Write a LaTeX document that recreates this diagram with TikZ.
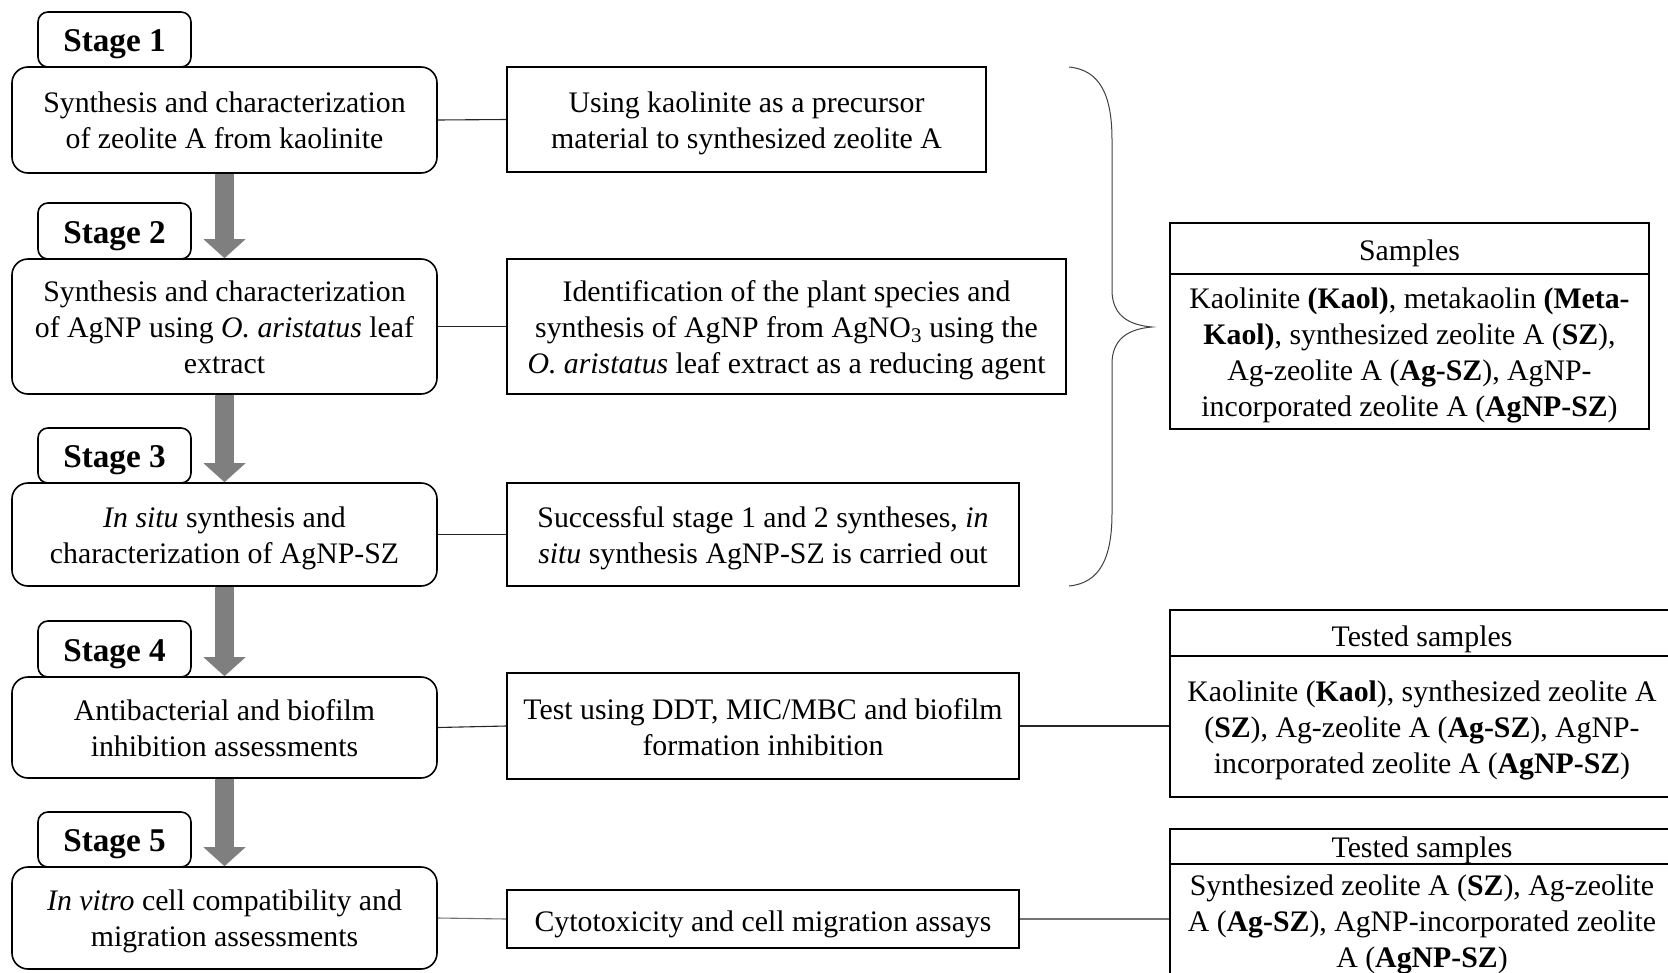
\documentclass[tikz,border=0pt]{standalone}
\usepackage{fontspec}
\setmainfont{Liberation Serif}
\usetikzlibrary{arrows.meta}
\definecolor{arrowgray}{HTML}{7F7F7F}
\begin{document}
\begin{tikzpicture}[x=1pt,y=-1pt,
  txt/.style={font=\fontsize{29.8}{36}\selectfont, align=center, inner sep=0pt,
    execute at begin node=\strut, execute at end node=\strut},
  mainbox/.style={draw, line width=1.6pt, rounded corners=16pt, inner sep=0pt, minimum width=425pt},
  stagebox/.style={draw, fill=white, line width=1.6pt, rounded corners=10pt, inner sep=0pt,
    font=\fontsize{33.2}{36}\selectfont\bfseries, minimum width=153pt,
    text height=24pt, text depth=0pt},
  midbox/.style={draw, line width=1.6pt, inner sep=0pt},
  sidebox/.style={draw, line width=1.4pt, inner sep=0pt},
  conn/.style={line width=1.1pt, draw=black!85},
  connlight/.style={line width=1.1pt, draw=black!55},
  bigarrow/.style={line width=19pt, draw=arrowgray, -{Triangle[width=41pt,length=19pt]}},
  bracestyle/.style={line width=1pt, draw=black!75}
]
\useasboundingbox (0,0) rectangle (1668,972);

% main stage boxes
\node[mainbox, minimum height=106pt] (m1) at (224.5,120) {};
\node[mainbox, minimum height=135pt] (m2) at (224.5,326.5) {};
\node[mainbox, minimum height=103pt] (m3) at (224.5,534.5) {};
\node[mainbox, minimum height=101pt] (m4) at (224.5,727.5) {};
\node[mainbox, minimum height=102pt] (m5) at (224.5,918) {};
\node[txt] (m1t) at ([yshift=-6pt]m1.center) {Synthesis and characterization\\of zeolite A from kaolinite};
\node[txt] (m2t) at ([yshift=-6pt]m2.center) {Synthesis and characterization\\of AgNP using \textit{O. aristatus} leaf\\extract};
\node[txt] (m3t) at ([yshift=-6pt]m3.center) {\textit{In situ} synthesis and\\characterization of AgNP-SZ};
\node[txt] (m4t) at ([yshift=-6pt]m4.center) {Antibacterial and biofilm\\inhibition assessments};
\node[txt] (m5t) at ([yshift=-6pt]m5.center) {\textit{In vitro} cell compatibility and\\migration assessments};

% stage labels
\node[stagebox, minimum height=55pt] (s1) at (114.5,39.5) {Stage 1};
\node[stagebox, minimum height=56pt] (s2) at (114.5,231) {Stage 2};
\node[stagebox, minimum height=55pt] (s3) at (114.5,455.5) {Stage 3};
\node[stagebox, minimum height=56pt] (s4) at (114.5,649) {Stage 4};
\node[stagebox, minimum height=55pt] (s5) at (114.5,839.5) {Stage 5};

% arrows
\draw[bigarrow] (m1.south) -- (m2.north);
\draw[bigarrow] (m2.south) -- (m3.north);
\draw[bigarrow] (m3.south) -- (m4.north);
\draw[bigarrow] (m4.south) -- (m5.north);

% middle boxes
\node[midbox, minimum width=479pt, minimum height=105pt] (d1) at (746.5,119.5) {};
\node[midbox, minimum width=559pt, minimum height=135pt] (d2) at (786.5,326.5) {};
\node[midbox, minimum width=512pt, minimum height=103pt] (d3) at (763,534.5) {};
\node[midbox, minimum width=512pt, minimum height=106pt] (d4) at (763,726) {};
\node[midbox, minimum width=512pt, minimum height=58pt] (d5) at (763,919) {};
\node[txt] (d1t) at ([yshift=-6pt]d1.center) {Using kaolinite as a precursor\\material to synthesized zeolite A};
\node[txt] (d2t) at ([yshift=-6pt]d2.center) {Identification of the plant species and\\synthesis of AgNP from AgNO\textsubscript{3} using the\\\textit{O. aristatus} leaf extract as a reducing agent};
\node[txt] (d3t) at ([yshift=-6pt]d3.center) {Successful stage 1 and 2 syntheses, \textit{in}\\\textit{situ} synthesis AgNP-SZ is carried out};
\node[txt] (d4t) at ([yshift=-6pt]d4.center) {Test using DDT, MIC/MBC and biofilm\\formation inhibition};
\node[txt] (d5t) at ([yshift=-5pt]d5.center) {Cytotoxicity and cell migration assays};

% connectors
\draw[conn] (m1.east) -- (d1.west);
\draw[conn] (m2.east) -- (d2.west);
\draw[conn] (m3.east) -- (d3.west);
\draw[conn] (m4.east) -- (d4.west);
\draw[connlight] (m5.east) -- (d5.west);

% brace
\draw[bracestyle] (1069,67) .. controls (1100,70) and (1112,95) .. (1112,140)
  -- (1112,290) .. controls (1112,315) and (1128,325) .. (1152,327)
  .. controls (1128,329) and (1112,339) .. (1112,364)
  -- (1112,513) .. controls (1112,558) and (1100,583) .. (1069,586);

% samples box
\node[sidebox, minimum width=479pt, minimum height=51pt] (sh) at (1409.5,248.5) {};
\node[sidebox, minimum width=479pt, minimum height=155pt] (sb) at (1409.5,351.5) {};
\node[txt] (sht) at ([yshift=-5pt]sh.center) {Samples};
\node[txt] (sbt) at ([yshift=-6pt]sb.center) {Kaolinite \textbf{(Kaol)}, metakaolin \textbf{(Meta-}\\\textbf{Kaol)}, synthesized zeolite A (\textbf{SZ}),\\Ag-zeolite A (\textbf{Ag-SZ}), AgNP-\\incorporated zeolite A (\textbf{AgNP-SZ})};

% tested samples (stage 4)
\node[sidebox, minimum width=504pt, minimum height=46pt] (t4h) at (1422,633) {};
\node[sidebox, minimum width=504pt, minimum height=141pt] (t4b) at (1422,726.5) {};
\node[txt] (t4ht) at ([yshift=-6pt]t4h.center) {Tested samples};
\node[txt] (t4bt) at ([yshift=-6pt]t4b.center) {Kaolinite (\textbf{Kaol}), synthesized zeolite A\\(\textbf{SZ}), Ag-zeolite A (\textbf{Ag-SZ}), AgNP-\\incorporated zeolite A (\textbf{AgNP-SZ})};

% tested samples (stage 5)
\node[sidebox, minimum width=504pt, minimum height=35pt] (t5h) at (1422,846.5) {};
\node[sidebox, anchor=north, minimum width=504pt, minimum height=130pt] (t5b) at (1422,864) {};
\node[txt] (t5ht) at ([yshift=-4pt]t5h.center) {Tested samples};
\node[txt] (t5bt) at (1422,926.5) {Synthesized zeolite A (\textbf{SZ}), Ag-zeolite\\A (\textbf{Ag-SZ}), AgNP-incorporated zeolite\\A (\textbf{AgNP-SZ})};

\draw[conn] (d4.east) -- (d4.east -| t4b.west);
\draw[connlight] (d5.east) -- (d5.east -| t5b.west);
\end{tikzpicture}
\end{document}
